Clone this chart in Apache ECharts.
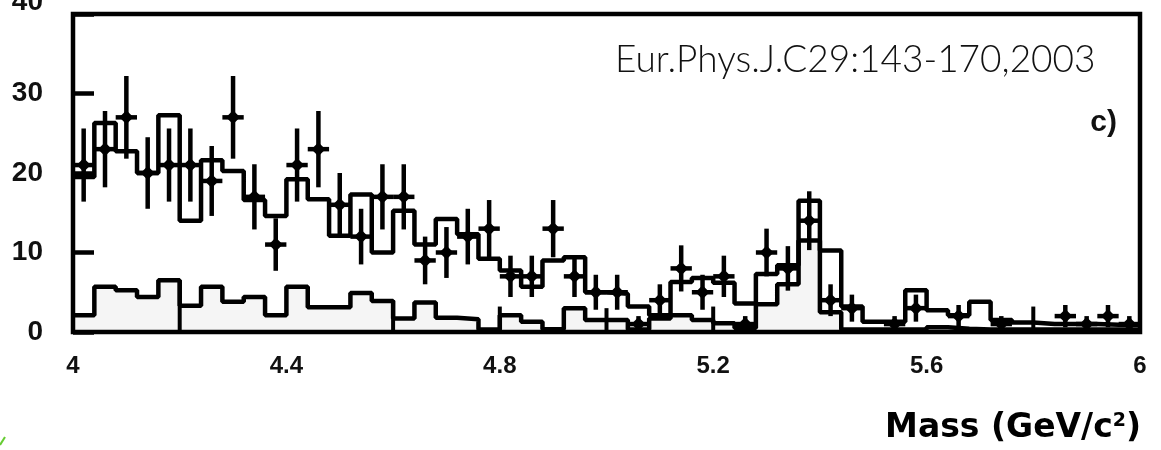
<!DOCTYPE html>
<html><head><meta charset="utf-8">
<script src="https://cdn.jsdelivr.net/npm/echarts@6/dist/echarts.min.js"></script>
<style>html,body{margin:0;padding:0;background:#fff}#c{width:1161px;height:450px}</style>
</head><body><div id="c"></div>
<script>
// ---- data ----
const binCenters = [4.02,4.06,4.10,4.14,4.18,4.22,4.26,4.30,4.34,4.38,
                    4.42,4.46,4.50,4.54,4.58,4.62,4.66,4.70,4.74,4.78,
                    4.82,4.86,4.90,4.94,4.98,5.02,5.06,5.10,5.14,5.18,
                    5.22,5.26,5.30,5.34,5.38,5.42,5.46,5.50,5.54,5.58,
                    5.62,5.66,5.70,5.74,5.78,5.82,5.86,5.90,5.94,5.98];
const binWidth = 0.04;
const dataCounts = [21,23,27,20,21,21,19,27,17,11,
                    21,23,16,12,17,17,9,10,12,13,
                    7,7,13,7,5,5,1,4,8,5,
                    7,1,10,8,14,4,3,null,1,3,
                    null,2,null,1,null,null,2,1,2,1];
const dataErrors = [4.6,4.8,5.2,4.5,4.6,4.6,4.4,5.2,4.1,3.3,
                    4.6,4.8,4.0,3.5,4.1,4.1,3.0,3.2,3.5,3.6,
                    2.6,2.6,3.6,2.6,2.2,2.2,1.0,2.0,2.9,2.2,
                    2.6,1.0,3.0,2.8,3.7,2.0,1.7,null,1.0,1.7,
                    null,1.4,null,1.0,null,null,1.4,1.0,1.4,1.0];
const mcTotal = [19.5,26.3,22.75,20.0,27.25,14.0,21.6,20.25,16.6,14.6,
                 19.2,16.7,12.1,17.3,10.0,15.25,11.0,14.2,12.3,9.2,
                 7.75,5.7,9.0,9.4,5.0,4.8,3.2,2.1,6.3,6.8,
                 6.2,3.6,7.3,8.4,16.5,10.25,3.2,1.3,1.3,5.25,
                 2.75,2.1,3.8,1.5,1.2,1.0,1.0,1.0,0.9,0.9];
const mcBackground = [2.1,5.7,5.25,4.4,6.5,3.3,5.7,3.8,4.4,2.1,
                      5.7,3.1,3.1,4.9,3.9,1.7,3.7,1.8,1.6,0.3,
                      2.1,1.3,0.35,3.0,1.5,1.5,0.3,1.7,2.1,1.5,
                      1.1,0.5,3.5,6.0,11.5,2.5,0.3,0.3,0.3,0.3,
                      0.6,0.4,0.3,0.3,0.3,0.3,0.3,0.3,0.3,0.3];
const dividerMass = [4.2,4.6,4.8,5.0,5.2,5.8];
const dividerTop  = [6.5,4.0,3.2,3.0,3.2,3.2];
const xTickLabels = [4,4.4,4.8,5.2,5.6,6];
const yTickLabels = [0,10,20,30,40];
const refText = 'Eur.Phys.J.C29:143-170,2003';
const panelText = 'c)';

// ---- build ----
function stepData(vals){
  const out = binCenters.map((c,i)=>[+(c-binWidth/2).toFixed(3), vals[i]]);
  out.push([+(binCenters[binCenters.length-1]+binWidth/2).toFixed(3), vals[vals.length-1]]);
  return out;
}
const points = [];
binCenters.forEach((c,i)=>{ if(dataCounts[i]!=null) points.push([c,dataCounts[i],dataErrors[i]]); });
const dividers = dividerMass.map((m,i)=>[m,dividerTop[i]]);

const chart = echarts.init(document.getElementById('c'), null, {renderer:'canvas'});
chart.setOption({
  animation:false,
  backgroundColor:'#fff',
  grid:{left:73,right:21,top:14,bottom:118,show:true,borderColor:'#000',borderWidth:4.5,backgroundColor:'transparent',z:10},
  xAxis:{type:'value',min:xTickLabels[0],max:xTickLabels[xTickLabels.length-1],interval:0.4,
    axisLine:{show:false},axisTick:{show:false},splitLine:{show:false},
    axisLabel:{margin:22,fontFamily:'Liberation Sans',fontWeight:'bold',fontSize:24,color:'#111',
      formatter:v=>{const r=parseFloat(v.toFixed(1));return xTickLabels.indexOf(r)>=0?String(r):'';}}},
  yAxis:{type:'value',min:yTickLabels[0],max:yTickLabels[yTickLabels.length-1],interval:10,
    axisLine:{show:false},splitLine:{show:false},
    axisTick:{show:true,inside:true,length:21,lineStyle:{color:'#000',width:4.5}},
    axisLabel:{margin:30,fontFamily:'Liberation Sans',fontWeight:'bold',fontSize:28,color:'#111',
      formatter:v=>v===40?'':String(v)}},
  series:[
    {type:'line',step:'end',data:stepData(mcBackground),showSymbol:false,symbol:'none',
     lineStyle:{color:'#000',width:4.5},areaStyle:{color:'#f5f5f5',opacity:1},z:2},
    {type:'custom',data:dividers,z:3,
     renderItem:(p,api)=>{const a=api.coord([api.value(0),0]);const b=api.coord([api.value(0),api.value(1)]);
       return {type:'line',shape:{x1:a[0],y1:a[1],x2:b[0],y2:b[1]},style:{stroke:'#000',lineWidth:4}};}},
    {type:'line',step:'end',data:stepData(mcTotal),showSymbol:false,symbol:'none',
     lineStyle:{color:'#000',width:4.5},z:4},
    {type:'custom',data:points,z:5,encode:{x:0,y:1},
     renderItem:(p,api)=>{
       const x=api.value(0),y=api.value(1),e=api.value(2);
       const c=api.coord([x,y]);const t=api.coord([x,y+e]);const b=api.coord([x,Math.max(0,y-e)]);
       const l=api.coord([x-binWidth/2,y]);const r=api.coord([x+binWidth/2,y]);
       const d=7;
       return {type:'group',children:[
         {type:'line',shape:{x1:c[0],y1:t[1],x2:c[0],y2:b[1]},style:{stroke:'#000',lineWidth:4.5}},
         {type:'line',shape:{x1:l[0],y1:c[1],x2:r[0],y2:c[1]},style:{stroke:'#000',lineWidth:4.5}},
         {type:'polygon',shape:{points:[[c[0],c[1]-d],[c[0]+d,c[1]],[c[0],c[1]+d],[c[0]-d,c[1]]]},style:{fill:'#000'}}
       ]};
     }}
  ],
  graphic:[
    {type:'text',x:43,y:16,style:{text:String(yTickLabels[4]),align:'right',verticalAlign:'bottom',
      font:'bold 28px "Liberation Sans"',fill:'#111'}},
    {type:'text',x:615,y:60,style:{text:refText,align:'left',verticalAlign:'middle',
      font:'300 37px Lato',fill:'#111'}},
    {type:'text',x:1117,y:123,style:{text:panelText,align:'right',verticalAlign:'middle',
      font:'bold 30px "Liberation Sans"',fill:'#111'}},
    {type:'text',x:1141,y:428,style:{text:'{a|Mass (GeV/c}{s|2}{a|)}',align:'right',verticalAlign:'middle',
      rich:{a:{fontFamily:'DejaVu Sans',fontWeight:'bold',fontSize:33,color:'#111'},
            s:{fontFamily:'DejaVu Sans',fontWeight:'bold',fontSize:19,verticalAlign:'top',color:'#111'}}}},
    {type:'polyline',shape:{points:[[0,445],[5,437]]},style:{stroke:'#66cc33',lineWidth:2}}
  ]
});
</script></body></html>
